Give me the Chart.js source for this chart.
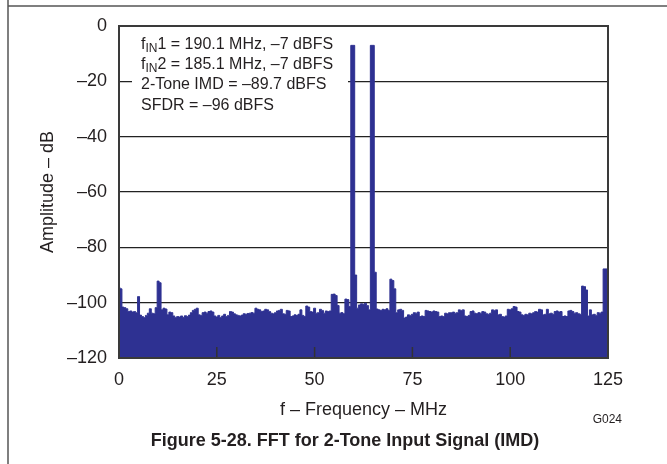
<!DOCTYPE html>
<html>
<head>
<meta charset="utf-8">
<script src="https://cdn.jsdelivr.net/npm/chart.js@4.4.1/dist/chart.umd.min.js"></script>
<style>
  html, body { margin: 0; padding: 0; background: #fff; }
  #wrap { width: 667px; height: 464px; position: relative; }
</style>
</head>
<body>
<div id="wrap"><canvas id="fftChart" width="667" height="464"></canvas></div>
<script>
// FFT bins, 0.5 MHz apart, 0 .. 125 MHz
const binMHz = 0.5;
const amplitudeDb = [
  -94.5, -95.0, -101.6, -101.8, -102.2, -103.2, -103.0, -103.4, -103.2, -103.6,
  -97.8, -104.5, -105.0, -105.4, -104.6, -103.8, -102.2, -103.8, -104.0, -101.8,
  -92.2, -92.8, -102.6, -102.0, -102.3, -104.4, -103.4, -103.6, -104.8, -105.4,
  -105.0, -105.2, -104.8, -105.3, -104.7, -105.0, -104.5, -103.6, -102.8, -102.4,
  -102.0, -104.4, -104.6, -103.6, -103.4, -103.8, -103.2, -103.0, -103.4, -104.8,
  -105.2, -104.6, -105.4, -104.8, -104.2, -105.0, -104.6, -103.2, -103.4, -104.0,
  -104.4, -104.6, -104.8, -104.5, -104.0, -104.2, -103.9, -103.8, -103.6, -103.8,
  -102.0, -102.4, -102.6, -103.2, -103.0, -102.4, -102.6, -103.2, -103.8, -104.0,
  -103.6, -103.0, -102.8, -102.4, -104.0, -104.2, -102.8, -103.0, -105.0, -104.8,
  -104.4, -104.6, -104.2, -102.6, -104.6, -105.0, -101.2, -101.6, -103.2, -103.4,
  -102.0, -103.8, -103.6, -102.4, -102.8, -103.8, -103.0, -103.2, -103.0, -97.0,
  -96.9, -97.4, -101.0, -103.8, -103.6, -104.0, -98.7, -98.9, -101.4, -7.0,
  -7.0, -90.0, -102.0, -100.8, -100.4, -100.6, -100.2, -101.0, -102.6, -7.0,
  -7.0, -89.0, -102.3, -102.6, -102.8, -102.4, -102.6, -102.2, -102.8, -91.5,
  -92.0, -95.0, -103.6, -102.6, -102.4, -102.8, -105.5, -105.2, -104.4, -104.6,
  -104.2, -103.6, -103.8, -103.4, -105.0, -104.8, -105.0, -102.8, -103.0, -103.2,
  -103.4, -103.0, -103.2, -103.4, -105.0, -104.8, -105.0, -103.8, -104.0, -103.6,
  -103.6, -103.4, -103.8, -103.6, -102.6, -102.8, -102.6, -104.8, -105.0, -104.6,
  -103.2, -103.0, -103.8, -104.0, -103.6, -103.8, -103.2, -103.4, -104.0, -104.2,
  -103.8, -102.6, -102.8, -102.6, -104.4, -104.2, -105.0, -105.2, -104.8, -102.4,
  -102.6, -102.2, -101.4, -101.6, -103.2, -103.4, -104.4, -104.6, -104.2, -104.4,
  -103.8, -104.0, -103.6, -103.2, -103.4, -102.4, -102.6, -104.4, -104.2, -102.4,
  -104.0, -103.8, -104.2, -103.2, -103.0, -103.4, -103.2, -105.0, -104.8, -105.0,
  -103.0, -102.8, -103.2, -103.8, -103.6, -104.0, -104.2, -94.0, -94.2, -95.4,
  -104.8, -102.6, -104.4, -104.2, -104.6, -103.6, -103.8, -103.4, -87.8, -87.8,
  -87.8
];

const xRangeMHz = [0, 125];
const yRangeDb = [-120, 0];

// text block in the upper left: [main, subscript, rest]
const noteLines = [
  ['f', 'IN', '1 = 190.1 MHz, \u20137 dBFS'],
  ['f', 'IN', '2 = 185.1 MHz, \u20137 dBFS'],
  ['2-Tone IMD = \u201389.7 dBFS'],
  ['SFDR = \u201396 dBFS']
];
const figTitle = 'Figure 5-28. FFT for 2-Tone Input Signal (IMD)';
const figCode = 'G024';

const FONT = '"Liberation Sans", Arial, Helvetica, sans-serif';
const INK = '#231f20';
const NAVY = '#2e3192';

const points = amplitudeDb.map((v, i) => ({ x: i * binMHz, y: v }));

const dash = v => (v < 0 ? '\u2013' + Math.abs(v) : String(v));

const decor = {
  id: 'decor',
  afterDraw(chart) {
    const { ctx, chartArea: a, scales: { x } } = chart;
    ctx.save();

    // short ticks pointing up into the plot
    ctx.strokeStyle = '#333';
    ctx.lineWidth = 1.5;
    x.ticks.forEach(t => {
      const px = x.getPixelForValue(t.value);
      ctx.beginPath();
      ctx.moveTo(px, a.bottom);
      ctx.lineTo(px, a.bottom - 11);
      ctx.stroke();
    });

    // plot frame
    ctx.lineWidth = 2;
    ctx.strokeStyle = '#3a3a3a';
    ctx.strokeRect(a.left, a.top, a.right - a.left, a.bottom - a.top);

    // note box
    ctx.fillStyle = '#fff';
    ctx.fillRect(a.left + 13, a.top + 6, 216, 86);
    ctx.fillStyle = INK;
    ctx.textBaseline = 'alphabetic';
    ctx.textAlign = 'left';
    const baseY = [22.5, 42.5, 63, 83.5];
    noteLines.forEach((parts, i) => {
      let tx = a.left + 22;
      const ty = a.top + baseY[i];
      ctx.font = '16px ' + FONT;
      ctx.fillText(parts[0], tx, ty);
      tx += ctx.measureText(parts[0]).width;
      if (parts.length > 1) {
        ctx.font = '12px ' + FONT;
        ctx.fillText(parts[1], tx, ty + 3);
        tx += ctx.measureText(parts[1]).width;
        ctx.font = '16px ' + FONT;
        ctx.fillText(parts[2], tx, ty);
      }
    });

    // caption and figure code
    ctx.textAlign = 'center';
    ctx.font = 'bold 18px ' + FONT;
    ctx.fillText(figTitle, 345, 446);
    ctx.textAlign = 'right';
    ctx.font = '12px ' + FONT;
    ctx.fillText(figCode, 622, 423);

    // page frame lines
    ctx.strokeStyle = '#555';
    ctx.lineWidth = 1.5;
    ctx.beginPath();
    ctx.moveTo(8, 0);
    ctx.lineTo(8, 464);
    ctx.moveTo(8, 6);
    ctx.lineTo(667, 6);
    ctx.stroke();

    ctx.restore();
  }
};

new Chart(document.getElementById('fftChart'), {
  type: 'line',
  data: {
    datasets: [{
      data: points,
      stepped: 'middle',
      fill: 'start',
      backgroundColor: NAVY,
      borderColor: NAVY,
      borderWidth: 1,
      pointRadius: 0
    }]
  },
  options: {
    responsive: false,
    animation: false,
    events: [],
    layout: { padding: { top: 26, right: 59, left: 0, bottom: 0 } },
    plugins: { legend: { display: false }, tooltip: { enabled: false } },
    scales: {
      x: {
        type: 'linear',
        min: xRangeMHz[0],
        max: xRangeMHz[1],
        afterFit: s => { s.height = 106; },
        grid: { display: false, drawTicks: false },
        border: { display: false },
        ticks: {
          stepSize: 25,
          padding: 11,
          color: INK,
          font: { family: FONT, size: 18 },
          maxRotation: 0
        },
        title: {
          display: true,
          text: 'f \u2013 Frequency \u2013 MHz',
          color: INK,
          font: { family: FONT, size: 18 },
          padding: { top: 0, bottom: 43 }
        }
      },
      y: {
        min: yRangeDb[0],
        max: yRangeDb[1],
        afterFit: s => { s.width = 119; },
        grid: { color: '#222', lineWidth: 1.2, drawTicks: false },
        border: { display: false },
        ticks: {
          stepSize: 20,
          padding: 12,
          color: INK,
          font: { family: FONT, size: 18 },
          callback: v => dash(v)
        },
        title: {
          display: true,
          text: 'Amplitude \u2013 dB',
          color: INK,
          font: { family: FONT, size: 18 },
          padding: { top: 37, bottom: 0 }
        }
      }
    }
  },
  plugins: [decor]
});
</script>
</body>
</html>
